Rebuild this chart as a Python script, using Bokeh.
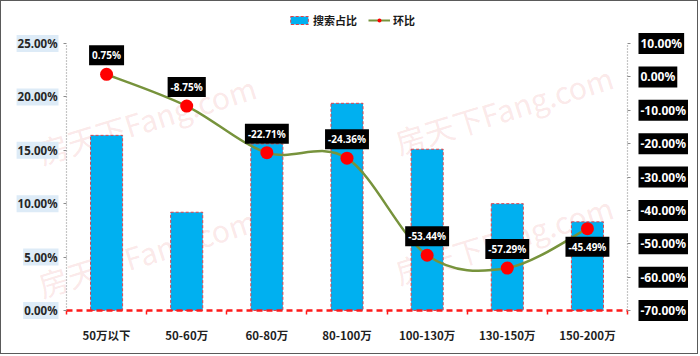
from bokeh.plotting import figure
from bokeh.models import Range1d, LinearAxis, FixedTicker, Label, Legend, LegendItem
from bokeh.embed import file_html
from bokeh.resources import INLINE

# ---------------- data ----------------
categories = ["50万以下", "50-60万", "60-80万", "80-100万", "100-130万", "130-150万", "150-200万"]
share = [16.4, 9.2, 15.6, 19.4, 15.1, 10.0, 8.3]            # 搜索占比 (%)
change = [0.75, -8.75, -22.71, -24.36, -53.44, -57.29, -45.49]  # 环比 (%)
change_labels = ["0.75%", "-8.75%", "-22.71%", "-24.36%", "-53.44%", "-57.29%", "-45.49%"]
label_side = ["above", "above", "above", "above", "above", "above", "below"]

left_ticks = [0, 5, 10, 15, 20, 25]
left_tick_labels = ["0.00%", "5.00%", "10.00%", "15.00%", "20.00%", "25.00%"]
right_ticks = [-70, -60, -50, -40, -30, -20, -10, 0, 10]
right_tick_labels = ["-70.00%", "-60.00%", "-50.00%", "-40.00%", "-30.00%",
                     "-20.00%", "-10.00%", "0.00%", "10.00%"]

series_names = ["搜索占比", "环比"]
watermark_text = "房天下Fang.com"

# ---------------- layout constants (pixels) ----------------
n = len(categories)
xs = [i + 0.5 for i in range(n)]
W, H = 698, 354                   # frame fills the whole figure (axes are relocated into it)
axis_top, axis_bottom = 42, 309   # inner y of the value axes' ends
head_px = axis_top
foot_px = H - axis_bottom
axis_px = axis_bottom - axis_top
plot_left, plot_right = 65, 626   # inner x of the value axes
unit = (plot_right - plot_left) / n
x_lo = -plot_left / unit
x_hi = n + (W - plot_right) / unit


def extend(lo, hi):
    s = (hi - lo) / axis_px
    return lo - foot_px * s, hi + head_px * s


p = figure(width=W, height=H, x_range=Range1d(x_lo, x_hi),
           y_range=Range1d(*extend(left_ticks[0], left_ticks[-1])),
           output_backend="svg", toolbar_location=None,
           min_border_left=0, min_border_right=0, min_border_top=0, min_border_bottom=0,
           background_fill_color="white", border_fill_color="white", outline_line_color=None,
           styles={"border": "1px solid #5a5a5a"})
p.extra_y_ranges = {"right": Range1d(*extend(right_ticks[0], right_ticks[-1]))}
p.xgrid.visible = False
p.ygrid.visible = False

# category axis, drawn on the 0% line
xa = p.xaxis[0]
xa.fixed_location = 0
xa.ticker = FixedTicker(ticks=xs, minor_ticks=list(range(n + 1)))
xa.bounds = (0, n)
xa.major_label_overrides = {x: c for x, c in zip(xs, categories)}
xa.axis_line_color = "#ff1a1a"
xa.axis_line_width = 2.5
xa.axis_line_dash = "6 4"
xa.major_tick_line_color = None
xa.major_tick_out = 0
xa.major_tick_in = 0
xa.minor_tick_line_color = "#ff1a1a"
xa.minor_tick_line_width = 1.5
xa.minor_tick_out = 4
xa.minor_tick_in = 0
xa.major_label_standoff = 12
xa.major_label_text_font = "Noto Sans CJK SC"
xa.major_label_text_font_style = "bold"
xa.major_label_text_font_size = "11.5px"
xa.major_label_text_color = "#1f1f1f"


def style_value_axis(ax, ticks):
    ax.ticker = FixedTicker(ticks=ticks)
    ax.bounds = (ticks[0], ticks[-1])
    ax.major_label_overrides = {t: "" for t in ticks}
    ax.major_label_standoff = 0
    ax.axis_line_color = "#8c8c8c"
    ax.axis_line_dash = "1 2"
    ax.axis_line_width = 1.2
    ax.major_tick_line_color = "#8c8c8c"
    ax.major_tick_out = 3
    ax.major_tick_in = 0
    ax.minor_tick_line_color = None


# left axis, drawn at the first category edge
ya = p.yaxis[0]
style_value_axis(ya, left_ticks)
ya.fixed_location = 0

# right axis, drawn at the last category edge
ra = LinearAxis(y_range_name="right")
style_value_axis(ra, right_ticks)
ra.fixed_location = n
p.add_layout(ra, "right")

# watermarks (faint); positions in px from the frame's lower-left corner
wm_pos = [(44, 137 + foot_px), (401, 147 + foot_px),
          (44, 4 + foot_px), (401, 17 + foot_px)]
for wx, wy in wm_pos:
    p.add_layout(Label(x=wx, y=wy, x_units="screen", y_units="screen", text=watermark_text,
                       angle=0.30, text_font="Noto Sans CJK SC", text_font_size="30px",
                       text_color="#e05a5a", text_alpha=0.15, level="underlay"))

# bars
bars = p.vbar(x=xs, top=share, width=0.4, bottom=0, fill_color="#00b0f0",
              line_color="#e0404a", line_dash="3 2", line_width=1)

# smoothed line (Catmull-Rom -> cubic Bezier, computed from the data points)
ext_x = [xs[0]] + xs + [xs[-1]]
ext_y = [change[0]] + change + [change[-1]]
bx0, by0, bx1, by1, cx0, cy0, cx1, cy1 = [], [], [], [], [], [], [], []
for i in range(n - 1):
    k = i + 1
    bx0.append(ext_x[k]); by0.append(ext_y[k])
    bx1.append(ext_x[k + 1]); by1.append(ext_y[k + 1])
    cx0.append(ext_x[k] + (ext_x[k + 1] - ext_x[k - 1]) / 6)
    cy0.append(ext_y[k] + (ext_y[k + 1] - ext_y[k - 1]) / 6)
    cx1.append(ext_x[k + 1] - (ext_x[k + 2] - ext_x[k]) / 6)
    cy1.append(ext_y[k + 1] - (ext_y[k + 2] - ext_y[k]) / 6)
p.bezier(x0=bx0, y0=by0, x1=bx1, y1=by1, cx0=cx0, cy0=cy0, cx1=cx1, cy1=cy1,
         y_range_name="right", line_color="#77933c", line_width=2.5)
# a one-point line draws nothing on the plot; it only supplies the legend's line swatch
legend_line = p.line(x=xs[:1], y=change[:1], y_range_name="right", line_color="#77933c", line_width=2)
dots = p.scatter(x=xs, y=change, y_range_name="right", size=13,
                 fill_color="#ff0000", line_color=None)

# data labels
for x, v, lab, side in zip(xs, change, change_labels, label_side):
    p.add_layout(Label(x=x, y=v, y_range_name="right", text=lab,
                       y_offset=19 if side == "above" else -18,
                       text_align="center", text_baseline="middle",
                       text_font="Noto Sans", text_font_style="bold", text_font_size="10px",
                       text_color="white", background_fill_color="black", padding=3))

# value-axis tick labels (boxed)
for t, lab in zip(left_ticks, left_tick_labels):
    p.add_layout(Label(x=0, y=t, text=lab, x_offset=-8, text_align="right", text_baseline="middle",
                       text_font="Noto Sans", text_font_style="bold", text_font_size="11.5px",
                       text_color="#262626", background_fill_color="#ddebf7", padding=1))
for t, lab in zip(right_ticks, right_tick_labels):
    p.add_layout(Label(x=n, y=t, y_range_name="right", text=lab, x_offset=11,
                       text_align="left", text_baseline="middle",
                       text_font="Noto Sans", text_font_style="bold", text_font_size="12px",
                       text_color="white", background_fill_color="black", padding=2))

# legend (in the band above the axes)
legend = Legend(items=[LegendItem(label=series_names[0], renderers=[bars]),
                       LegendItem(label=series_names[1], renderers=[legend_line, dots])],
                orientation="horizontal", location=(287, axis_bottom - 27 + foot_px),
                border_line_color=None, background_fill_alpha=0, padding=0, margin=0,
                spacing=11, label_standoff=3, glyph_width=22, glyph_height=10,
                label_text_font="Noto Sans CJK SC", label_text_font_style="bold",
                label_text_font_size="11px", label_text_color="#1a1a1a")
p.add_layout(legend)

open("out.html", "w").write(file_html(p, INLINE))
